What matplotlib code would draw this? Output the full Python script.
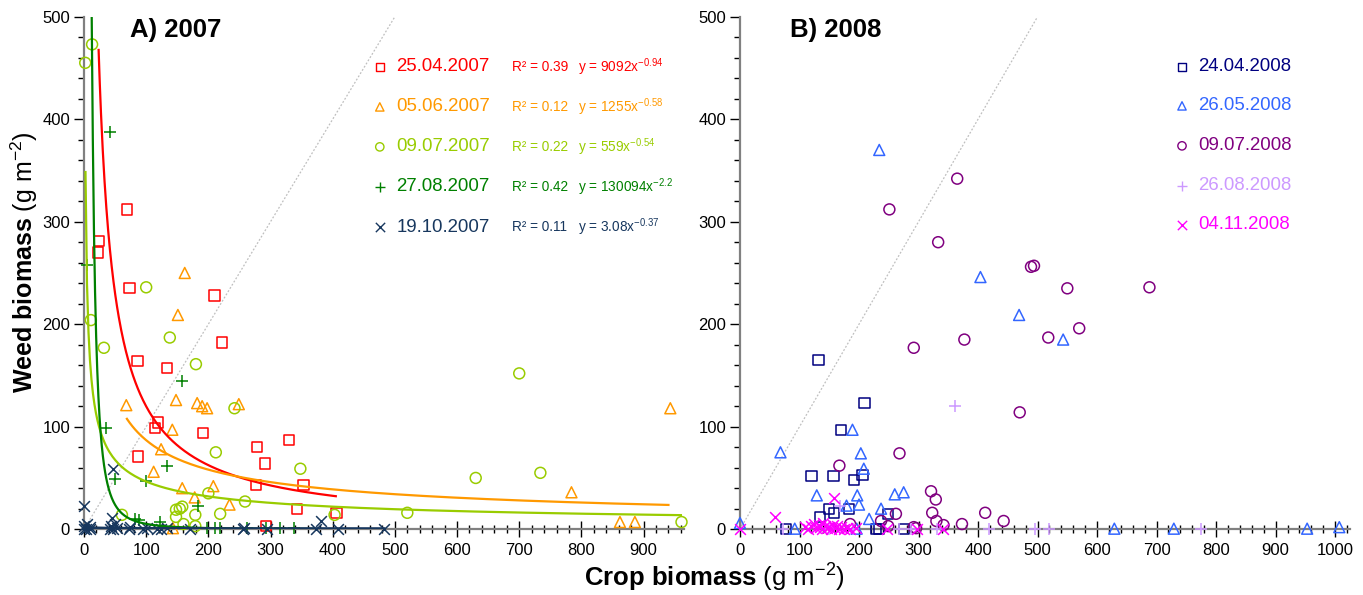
import numpy as np
import matplotlib
matplotlib.use("Agg")
import matplotlib.pyplot as plt
from matplotlib.ticker import MultipleLocator

plt.rcParams['font.family'] = ['Liberation Sans', 'DejaVu Sans']
plt.rcParams['mathtext.fontset'] = 'custom'
plt.rcParams['mathtext.rm'] = 'Liberation Sans'
plt.rcParams['mathtext.it'] = 'Liberation Sans:italic'
plt.rcParams['mathtext.bf'] = 'Liberation Sans:bold'
plt.rcParams['mathtext.default'] = 'regular'

# ---------------- Panel A: 2007 ----------------
a_labels = ["25.04.2007", "05.06.2007", "09.07.2007", "27.08.2007", "19.10.2007"]
a_colors = ["#FF0000", "#FF9900", "#99CC00", "#008000", "#17375E"]
a_markers = ["s", "^", "o", "+", "x"]
a_r2 = ["0.39", "0.12", "0.22", "0.42", "0.11"]
a_coef = [9092, 1255, 559, 130094, 3.08]
a_exp = [-0.94, -0.58, -0.54, -2.2, -0.37]
a_coef_txt = ["9092", "1255", "559", "130094", "3.08"]
a_exp_txt = ["-0.94", "-0.58", "-0.54", "-2.2", "-0.37"]
a_fit_xmin = [23.5, 69, 2.4, 12.4, 1]
a_fit_xmax = [405, 940, 960, 370, 482]

a1_x = [69, 24, 23, 73, 210, 222, 86, 133, 119, 114, 191, 87, 278, 330, 291, 277, 353, 343, 406, 293]
a1_y = [312, 281, 270, 235, 228, 182, 164, 157, 104, 99, 94, 71, 80, 87, 64, 43, 43, 20, 16, 3]
a2_x = [162, 151, 68, 148, 182, 190, 198, 249, 142, 124, 112, 158, 208, 178, 234, 143, 784, 862, 886, 943]
a2_y = [250, 209, 121, 126, 123, 120, 118, 122, 97, 78, 56, 40, 42, 31, 24, 1, 36, 7, 7, 118]
a3_x = [13, 2, 100, 11, 138, 32, 180, 242, 212, 348, 200, 259, 61, 148, 154, 158, 148, 179, 219, 403, 520, 179, 160, 700, 630, 734, 961]
a3_y = [473, 455, 236, 204, 187, 177, 161, 118, 75, 59, 35, 27, 14, 19, 20, 22, 12, 14, 15, 14, 16, 3, 5, 152, 50, 55, 7]
a4_x = [42, 5, 157, 36, 134, 50, 100, 183, 89, 123, 82, 198, 211, 219, 262, 292, 316, 337]
a4_y = [388, 258, 145, 99, 62, 49, 47, 23, 9, 7, 10, 1, 1, 1, 1, 1, 1, 1]
a5_x = [0, 46, 45, 381, 0, 0, 3, 5, 9, 10, 42, 44, 47, 50, 53, 72, 74, 95, 101, 117, 124, 133, 171, 255, 257, 295, 373, 408, 482]
a5_y = [23, 59, 11, 8, 0, 3, 0, 5, 0, 2, 0, 3, 0, 5, 1, 0, 2, 0, 1, 0, 0, 1, 0, 0, 1, 0, 0, 0, 0]
a_xs = [a1_x, a2_x, a3_x, a4_x, a5_x]
a_ys = [a1_y, a2_y, a3_y, a4_y, a5_y]

# ---------------- Panel B: 2008 ----------------
b_labels = ["24.04.2008", "26.05.2008", "09.07.2008", "26.08.2008", "04.11.2008"]
b_colors = ["#000080", "#3366FF", "#800080", "#CC99FF", "#FF00FF"]
b_markers = ["s", "^", "o", "+", "x"]

b1_x = [132, 209, 170, 120, 157, 192, 206, 150, 158, 183, 134, 249, 77, 229, 234, 275]
b1_y = [165, 123, 97, 52, 52, 48, 53, 20, 16, 20, 12, 15, 0.5, 0.5, 0.5, 0.5]
b2_x = [234, 404, 469, 543, 68, 189, 203, 208, 129, 197, 200, 179, 260, 275, 237, 217, 0, 92, 196, 629, 729, 953, 1007]
b2_y = [370, 246, 209, 185, 75, 97, 74, 59, 33, 33, 24, 23, 34, 36, 20, 10, 6, 0.5, 0.5, 0.5, 0.5, 0.5, 2]
b3_x = [365, 251, 333, 489, 494, 550, 688, 570, 518, 377, 292, 470, 268, 167, 321, 329, 262, 323, 330, 342, 373, 412, 443, 237, 249, 185, 292, 296]
b3_y = [342, 312, 280, 256, 257, 235, 236, 196, 187, 185, 177, 114, 74, 62, 37, 29, 15, 16, 8, 4, 5, 16, 8, 8, 3, 5, 2, 1]
b4_x = [362, 168, 72, 150, 190, 267, 288, 331, 419, 495, 520, 775]
b4_y = [120, 23, 0.5, 0.5, 0.5, 0.5, 0.5, 0.5, 0.5, 0.5, 0.5, 0.5]
b5_x = [0, 59, 158, 110, 115, 120, 125, 128, 132, 135, 138, 140, 143, 146, 150, 153, 156, 160, 163, 166, 170, 175, 180, 185, 195, 247, 297, 341]
b5_y = [0, 12, 30, 2, 0, 3, 5, 1, 4, 2, 0, 6, 3, 1, 2, 0, 4, 1, 3, 0, 2, 0, 1, 0, 1, 0.5, 0.5, 0.5]
b_xs = [b1_x, b2_x, b3_x, b4_x, b5_x]
b_ys = [b1_y, b2_y, b3_y, b4_y, b5_y]

one_to_one = [0, 500]

W, H = 1363, 595
fig = plt.figure(figsize=(W / 100, H / 100), dpi=100)
axA = fig.add_axes([84 / W, 1 - 529.2 / H, 600 / W, 512.5 / H])
axB = fig.add_axes([740 / W, 1 - 529.2 / H, 610 / W, 512.5 / H])


def style(ax, xmax):
    ax.set_xlim(0, xmax)
    ax.set_ylim(0, 500)
    for s in ["top", "right"]:
        ax.spines[s].set_visible(False)
    for s in ["left", "bottom"]:
        ax.spines[s].set_color("#808080")
        ax.spines[s].set_linewidth(1.6)
    ax.xaxis.set_major_locator(MultipleLocator(100))
    ax.xaxis.set_minor_locator(MultipleLocator(20))
    ax.yaxis.set_major_locator(MultipleLocator(100))
    ax.yaxis.set_minor_locator(MultipleLocator(20))
    ax.tick_params(axis="y", which="major", direction="out", length=7, width=1, labelsize=12, pad=3)
    ax.tick_params(axis="y", which="minor", direction="out", length=4, width=1)
    ax.tick_params(axis="x", which="major", direction="inout", length=12, width=1, labelsize=12, pad=4)
    ax.tick_params(axis="x", which="minor", direction="inout", length=6, width=1)
    ax.plot(one_to_one, one_to_one, linestyle=(0, (1.5, 1.5)), color="#BFBFBF", lw=0.9, zorder=1)


style(axA, 965)
style(axB, 1025)

sizes = {"s": 55, "^": 62, "o": 62, "+": 70, "x": 60}

# Panel A data and fits
for i in range(5):
    axA.scatter(a_xs[i], a_ys[i], marker=a_markers[i],
                facecolors="none" if a_markers[i] not in "+x" else a_colors[i],
                edgecolors=a_colors[i] if a_markers[i] not in "+x" else None,
                s=sizes[a_markers[i]], linewidths=1.1, zorder=3, clip_on=False)
for i in range(5):
    xf = np.linspace(a_fit_xmin[i], a_fit_xmax[i], 400)
    yf = a_coef[i] * xf ** a_exp[i]
    lw = 2.4 if i == 4 else 1.6
    axA.plot(xf, np.clip(yf, None, 500), color=a_colors[i], lw=lw, zorder=4)

# Panel B data
for i in range(5):
    axB.scatter(b_xs[i], b_ys[i], marker=b_markers[i],
                facecolors="none" if b_markers[i] not in "+x" else b_colors[i],
                edgecolors=b_colors[i] if b_markers[i] not in "+x" else None,
                s=sizes[b_markers[i]], linewidths=1.1, zorder=3, clip_on=False)

# Legends (manual rows)
row_y = [0.902, 0.824, 0.746, 0.668, 0.589]
legsz = {"s": 30, "^": 36, "o": 36, "+": 50, "x": 45}
for i in range(5):
    fc = "none" if a_markers[i] not in "+x" else a_colors[i]
    ec = a_colors[i] if a_markers[i] not in "+x" else None
    axA.scatter([0.493], [row_y[i]], transform=axA.transAxes, marker=a_markers[i],
                facecolors=fc, edgecolors=ec, s=legsz[a_markers[i]], linewidths=1.0, clip_on=False)
    axA.text(0.521, row_y[i], a_labels[i], transform=axA.transAxes, color=a_colors[i],
             fontsize=13.4, va="center", ha="left")
    axA.text(0.713, row_y[i], "R² = " + a_r2[i], transform=axA.transAxes, color=a_colors[i],
             fontsize=9.8, va="center", ha="left")
    axA.text(0.823, row_y[i], "y = " + a_coef_txt[i] + "x$^{" + a_exp_txt[i] + "}$",
             transform=axA.transAxes, color=a_colors[i], fontsize=9.8, va="center", ha="left")

row_yb = [0.902, 0.826, 0.748, 0.670, 0.594]
for i in range(5):
    fc = "none" if b_markers[i] not in "+x" else b_colors[i]
    ec = b_colors[i] if b_markers[i] not in "+x" else None
    axB.scatter([0.7246], [row_yb[i]], transform=axB.transAxes, marker=b_markers[i],
                facecolors=fc, edgecolors=ec, s=legsz[b_markers[i]], linewidths=1.0, clip_on=False)
    axB.text(0.751, row_yb[i], b_labels[i], transform=axB.transAxes, color=b_colors[i],
             fontsize=13.4, va="center", ha="left")

axA.text(0.077, 0.974, "A) 2007", transform=axA.transAxes, fontsize=18.5, fontweight="bold",
         va="center", ha="left")
axB.text(0.082, 0.974, "B) 2008", transform=axB.transAxes, fontsize=18.5, fontweight="bold",
         va="center", ha="left")

fig.text(714 / W, 1 - 578 / H, r"$\mathbf{Crop\ biomass}$ (g m$^{-2}$)", fontsize=18.5,
         ha="center", va="center")
fig.text(24 / W, 1 - 262 / H, r"$\mathbf{Weed\ biomass}$ (g m$^{-2}$)", fontsize=18,
         ha="center", va="center", rotation=90)

fig.savefig("out.png", dpi=100)
